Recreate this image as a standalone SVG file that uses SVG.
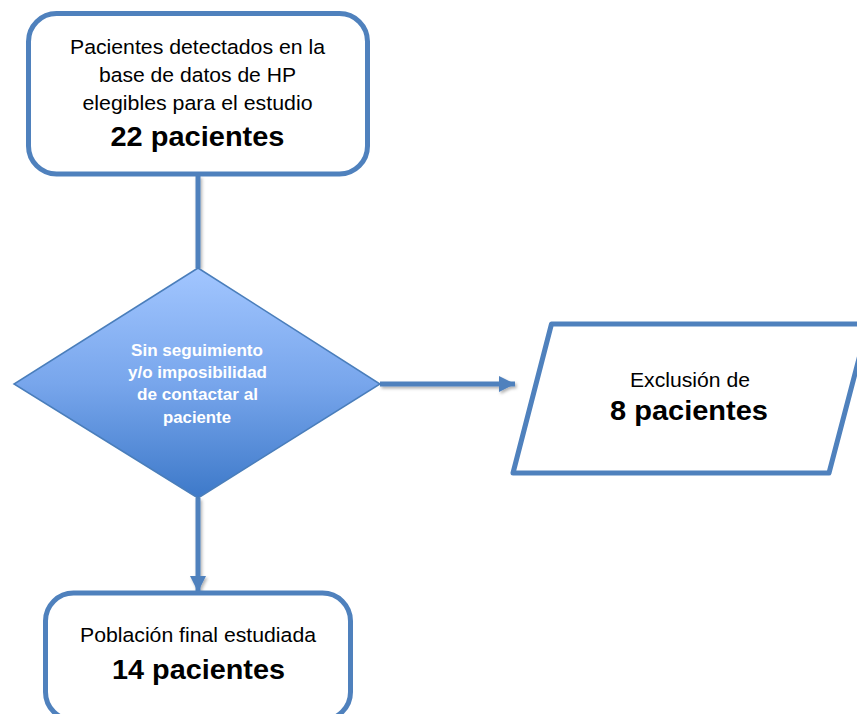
<svg xmlns="http://www.w3.org/2000/svg" width="857" height="714" viewBox="0 0 857 714">
  <defs>
    <linearGradient id="dg" x1="0" y1="0" x2="0" y2="1">
      <stop offset="0" stop-color="#A2C6FF"/>
      <stop offset="0.5" stop-color="#78A6EC"/>
      <stop offset="1" stop-color="#3D79C9"/>
    </linearGradient>
    <filter id="sh" x="-20%" y="-20%" width="140%" height="140%">
      <feDropShadow dx="1.5" dy="2" stdDeviation="1.5" flood-color="#000" flood-opacity="0.3"/>
    </filter>
    <marker id="ah" viewBox="0 0 16 16" refX="16" refY="8" markerWidth="16" markerHeight="16" markerUnits="userSpaceOnUse" orient="auto">
      <path d="M0,0 L16,8 L0,16 Z" fill="#4F81BD"/>
    </marker>
  </defs>
  <style>
    .box { fill: #FFFFFF; stroke: #4F81BD; stroke-width: 5; }
    .conn { stroke: #4F81BD; stroke-width: 5; fill: none; }
    .t { font-family: "Liberation Sans", Arial, sans-serif; font-size: 20.5px; fill: #000; text-anchor: middle; }
    .b { font-family: "Liberation Sans", Arial, sans-serif; font-size: 27.5px; font-weight: bold; fill: #000; text-anchor: middle; }
    .w { font-family: "Liberation Sans", Arial, sans-serif; font-size: 17px; font-weight: bold; fill: #FFFFFF; text-anchor: middle; }
  </style>
  <rect width="857" height="714" fill="#FFFFFF"/>

  <g id="connectors" filter="url(#sh)">
    <line class="conn" x1="198" y1="176" x2="198" y2="268"/>
    <line class="conn" x1="380" y1="384" x2="515" y2="384" stroke-width="4.5" marker-end="url(#ah)"/>
    <line class="conn" x1="198" y1="498" x2="198" y2="592" marker-end="url(#ah)"/>
  </g>

  <g id="node-pacientes">
    <rect class="box" x="28.5" y="13.5" width="339" height="160.5" rx="28" ry="28"/>
    <text class="t" x="197.5" y="53.5" textLength="255" lengthAdjust="spacingAndGlyphs">Pacientes detectados en la</text>
    <text class="t" x="197.5" y="82" textLength="197" lengthAdjust="spacingAndGlyphs">base de datos de HP</text>
    <text class="t" x="197.5" y="110" textLength="230" lengthAdjust="spacingAndGlyphs">elegibles para el estudio</text>
    <text class="b" x="197.5" y="145.5" textLength="174" lengthAdjust="spacingAndGlyphs">22 pacientes</text>
  </g>

  <g id="node-decision">
    <polygon points="198,268 380,384 198,498 14,384" fill="url(#dg)" stroke="#4A7EBB" stroke-width="1.5"/>
    <text class="w" x="197" y="355.5" textLength="132" lengthAdjust="spacingAndGlyphs">Sin seguimiento</text>
    <text class="w" x="197.5" y="377.5" textLength="139" lengthAdjust="spacingAndGlyphs">y/o imposibilidad</text>
    <text class="w" x="197.5" y="400" textLength="121" lengthAdjust="spacingAndGlyphs">de contactar al</text>
    <text class="w" x="197" y="422.5" textLength="68" lengthAdjust="spacingAndGlyphs">paciente</text>
  </g>

  <g id="node-exclusion">
    <polygon class="box" points="551.5,324 868,324 829,473 513,473" stroke-linejoin="round"/>
    <text class="t" x="690" y="387" textLength="120" lengthAdjust="spacingAndGlyphs">Exclusión de</text>
    <text class="b" x="689" y="420" textLength="158" lengthAdjust="spacingAndGlyphs">8 pacientes</text>
  </g>

  <g id="node-final">
    <rect class="box" x="45.5" y="593" width="305" height="127" rx="28" ry="28"/>
    <text class="t" x="198" y="642" textLength="236" lengthAdjust="spacingAndGlyphs">Población final estudiada</text>
    <text class="b" x="198.5" y="678.5" textLength="173" lengthAdjust="spacingAndGlyphs">14 pacientes</text>
  </g>
</svg>
